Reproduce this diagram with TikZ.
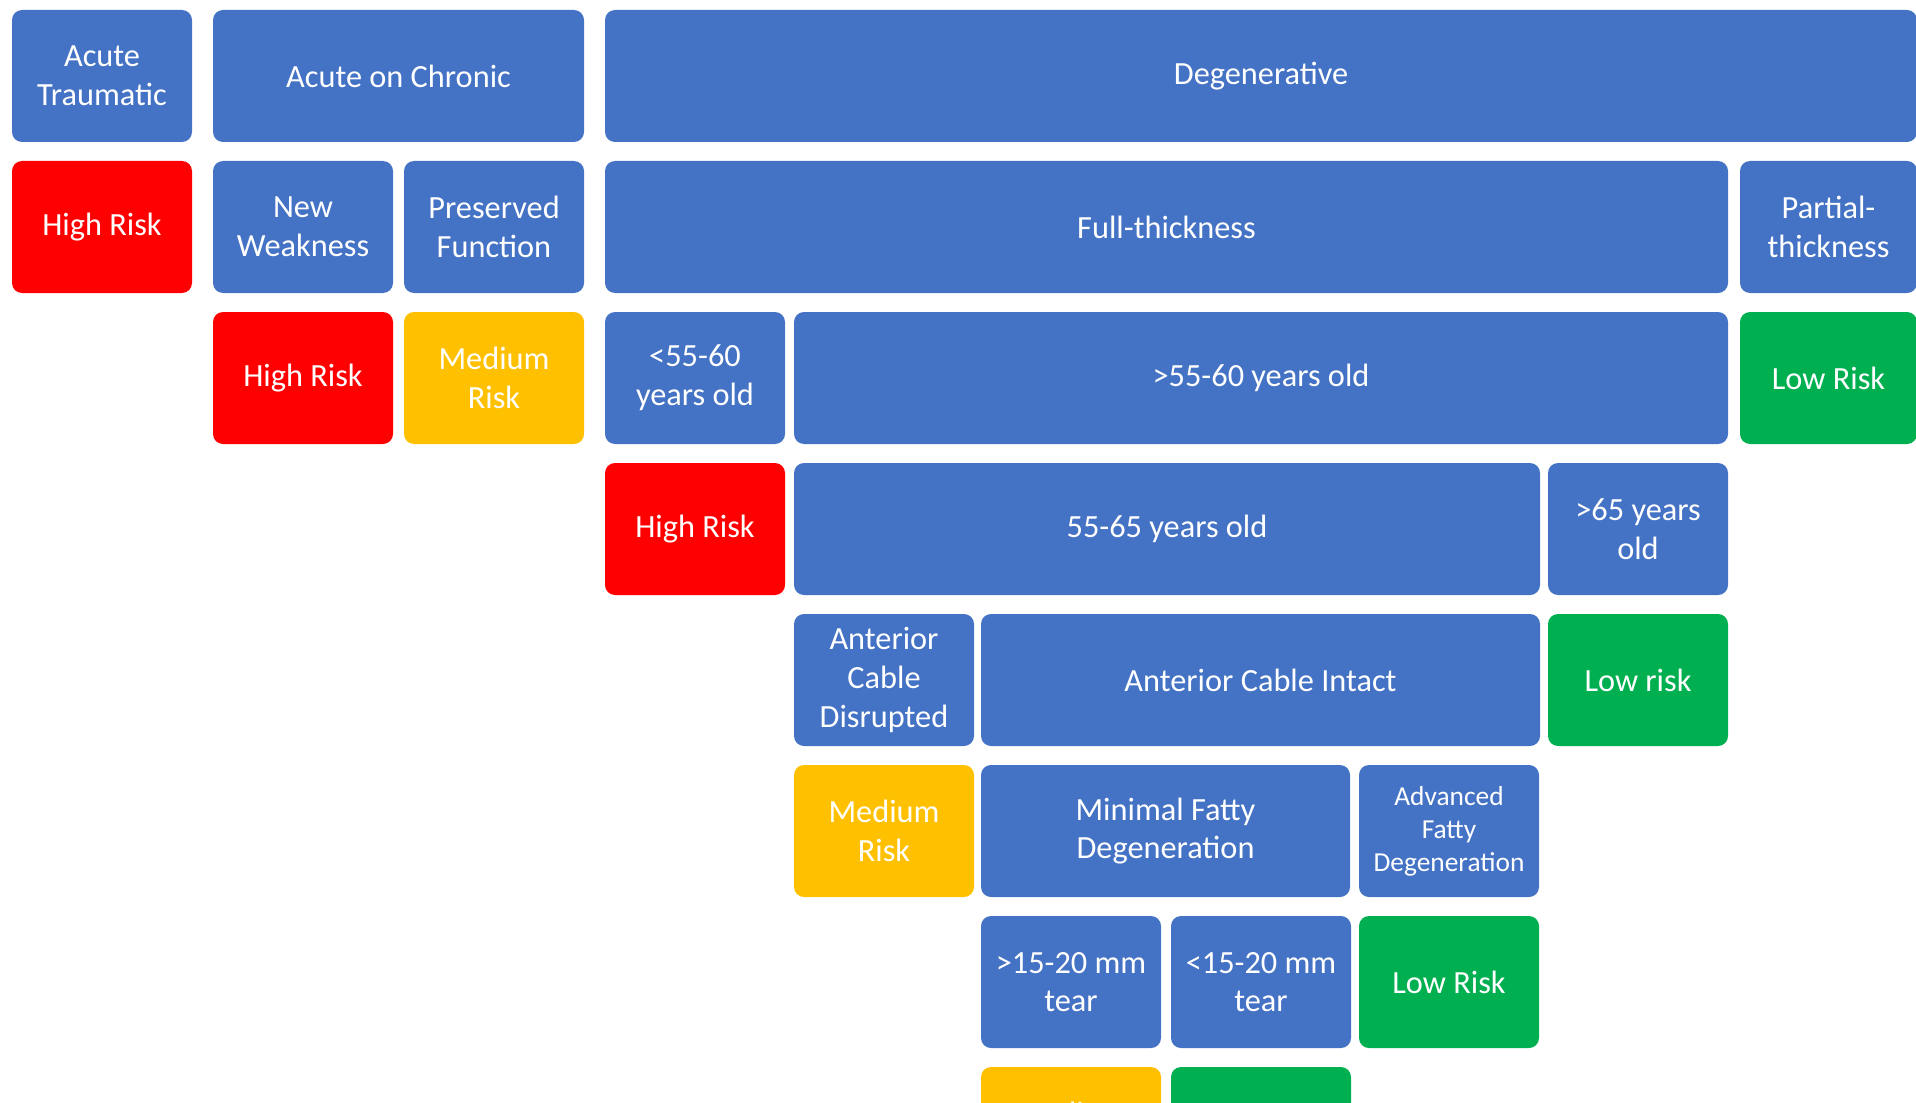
\documentclass[tikz,border=0pt]{standalone}
\usepackage{fontspec}
\setmainfont{Carlito}
\usetikzlibrary{positioning}

\definecolor{boxblue}{HTML}{4472C4}
\definecolor{riskred}{HTML}{FF0000}
\definecolor{riskamber}{HTML}{FFC000}
\definecolor{riskgreen}{HTML}{00B050}

\begin{document}
\begin{tikzpicture}[
    x=0.1mm, y=-0.1mm,
    box/.style={
        rectangle, rounded corners=1mm, fill=boxblue, text=white,
        anchor=north west, inner sep=1pt, outer sep=0pt,
        minimum width=18mm, minimum height=13.2mm, align=center,
        font=\fontsize{9.2}{11}\selectfont
    },
    high/.style={box, fill=riskred},
    medium/.style={box, fill=riskamber},
    low/.style={box, fill=riskgreen}
]

\clip (0,0) rectangle (1916,1102);

% row 1
\node[box] (traumatic) at (12,10) {Acute\\Traumatic};
\node[box, minimum width=37.1mm] (chronic) at (213,10) {Acute on Chronic};
\node[box, minimum width=131.2mm] (degen) at (605,10) {Degenerative};

% row 2
\node[high] (trHigh) at (12,161) {High Risk};
\node[box] (weak) at (213,161) {New\\Weakness};
\node[box] (preserved) at (404,161) {Preserved\\Function};
\node[box, minimum width=112.3mm] (full) at (605,161) {Full-thickness};
\node[box, minimum width=17.7mm] (partial) at (1740,161) {Partial-\\thickness};

% row 3
\node[high] (weakHigh) at (213,312) {High Risk};
\node[medium] (presMed) at (404,312) {Medium\\Risk};
\node[box] (young) at (605,312) {<55-60\\years old};
\node[box, minimum width=93.4mm] (old) at (794,312) {>55-60 years old};
\node[low, minimum width=17.7mm] (partLow) at (1740,312) {Low Risk};

% row 4
\node[high] (youngHigh) at (605,463) {High Risk};
\node[box, minimum width=74.6mm] (mid) at (794,463) {55-65 years old};
\node[box] (over) at (1548,463) {>65 years\\old};

% row 5
\node[box] (disrupted) at (794,614) {Anterior\\Cable\\Disrupted};
\node[box, minimum width=55.9mm] (intact) at (981,614) {Anterior Cable Intact};
\node[low] (overLow) at (1548,614) {Low risk};

% row 6
\node[medium] (disMed) at (794,765) {Medium\\Risk};
\node[box, minimum width=36.9mm] (minimal) at (981,765) {Minimal Fatty\\Degeneration};
\node[box, font=\fontsize{7.8}{9.4}\selectfont] (advanced) at (1359,765) {Advanced\\Fatty\\Degeneration};

% row 7
\node[box] (large) at (981,916) {>15-20 mm\\tear};
\node[box] (small) at (1171,916) {<15-20 mm\\tear};
\node[low] (advLow) at (1359,916) {Low Risk};

% row 8 (cut off by the page edge)
\node[medium] (largeMed) at (981,1067) {Medium\\Risk};
\node[low] (smallLow) at (1171,1067) {};

\end{tikzpicture}
\end{document}
